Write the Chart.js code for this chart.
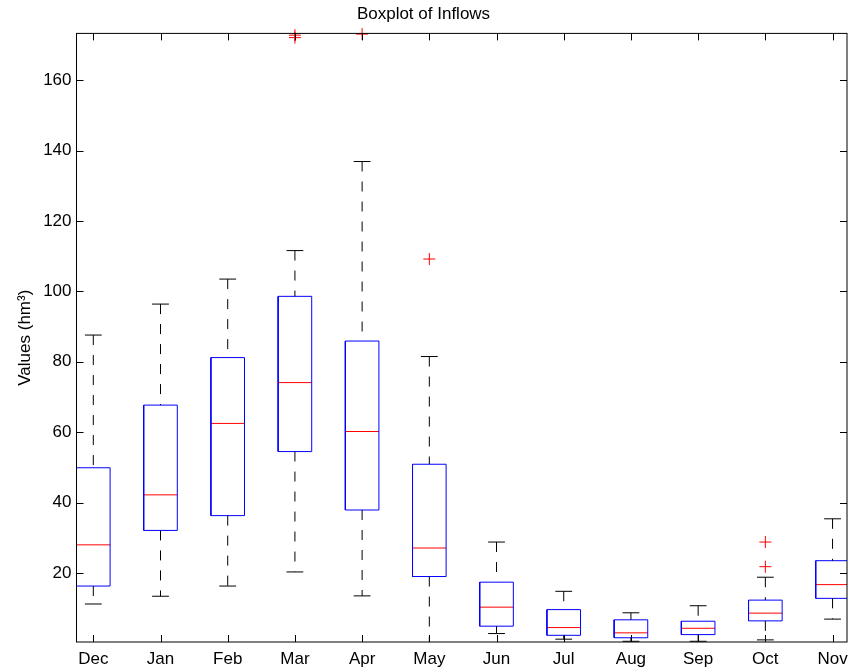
<!DOCTYPE html>
<html>
<head>
<meta charset="utf-8">
<title>Boxplot of Inflows</title>
<script src="https://cdn.jsdelivr.net/npm/chart.js@4.4.0/dist/chart.umd.min.js"></script>
<style>
  html, body { margin: 0; padding: 0; background: #fff; }
  #wrap { width: 848px; height: 670px; }
</style>
</head>
<body>
<div id="wrap"><canvas id="boxChart" width="848" height="670"></canvas></div>
<script>
'use strict';

// Monthly inflow statistics (hm3)
const months = ['Dec', 'Jan', 'Feb', 'Mar', 'Apr', 'May', 'Jun', 'Jul', 'Aug', 'Sep', 'Oct', 'Nov'];
const lowerWhisker = [11.2, 13.4, 16.3, 20.3, 13.5, 0.0, 2.8, 1.2, 0.6, 0.6, 1.0, 6.9];
const q1 = [16.3, 32.1, 36.3, 54.5, 37.9, 19.0, 4.9, 2.3, 1.6, 2.5, 6.4, 12.8];
const medians = [28.0, 42.2, 62.5, 74.1, 60.2, 27.1, 10.3, 4.5, 3.0, 4.3, 8.6, 16.7];
const q3 = [49.9, 67.7, 81.2, 98.6, 85.9, 50.9, 17.4, 9.6, 6.7, 6.3, 12.3, 23.5];
const upperWhisker = [87.6, 96.4, 103.5, 111.6, 136.9, 81.5, 28.8, 14.8, 8.7, 10.7, 18.8, 35.4];
const outliers = [[], [], [], [172.1, 172.8], [173.1], [109.2], [], [], [], [], [21.8, 28.8], []];
const yTickValues = [20, 40, 60, 80, 100, 120, 140, 160];

const BOX_HALF = 0.25;
const CAP_HALF = 0.125;
const FONT = '"Liberation Sans", Arial, Helvetica, sans-serif';

// helpers: each shape is a run of points, runs separated by a null gap
function gap(x) {
    return { x: x, y: null };
}

function boxPoints() {
    const pts = [];
    months.forEach(function(m, i) {
        pts.push({ x: i - BOX_HALF, y: q1[i] }, { x: i + BOX_HALF, y: q1[i] },
                 { x: i + BOX_HALF, y: q3[i] }, { x: i - BOX_HALF, y: q3[i] },
                 { x: i - BOX_HALF, y: q1[i] }, gap(i));
    });
    return pts;
}

function medianPoints() {
    const pts = [];
    months.forEach(function(m, i) {
        pts.push({ x: i - BOX_HALF, y: medians[i] }, { x: i + BOX_HALF, y: medians[i] }, gap(i));
    });
    return pts;
}

function whiskerPoints() {
    const pts = [];
    months.forEach(function(m, i) {
        pts.push({ x: i, y: upperWhisker[i] }, { x: i, y: q3[i] }, gap(i));
        pts.push({ x: i, y: q1[i] }, { x: i, y: lowerWhisker[i] }, gap(i));
    });
    return pts;
}

function capPoints() {
    const pts = [];
    months.forEach(function(m, i) {
        pts.push({ x: i - CAP_HALF, y: upperWhisker[i] }, { x: i + CAP_HALF, y: upperWhisker[i] }, gap(i));
        pts.push({ x: i - CAP_HALF, y: lowerWhisker[i] }, { x: i + CAP_HALF, y: lowerWhisker[i] }, gap(i));
    });
    return pts;
}

function outlierPoints() {
    const pts = [];
    outliers.forEach(function(list, i) {
        list.forEach(function(v) {
            pts.push({ x: i, y: v });
        });
    });
    return pts;
}

// MATLAB style frame with inward tick marks on all four sides
const framePlugin = {
    id: 'frame',
    afterDatasetsDraw: function(chart) {
        const ctx = chart.ctx;
        const area = chart.chartArea;
        const xScale = chart.scales.x;
        const yScale = chart.scales.y;
        const len = 7;
        ctx.save();
        ctx.strokeStyle = '#000';
        ctx.lineWidth = 1;
        ctx.beginPath();
        xScale.ticks.forEach(function(t) {
            const px = Math.round(xScale.getPixelForValue(t.value)) + 0.5;
            ctx.moveTo(px, area.bottom);
            ctx.lineTo(px, area.bottom - len);
            ctx.moveTo(px, area.top);
            ctx.lineTo(px, area.top + len);
        });
        yScale.ticks.forEach(function(t) {
            const py = Math.round(yScale.getPixelForValue(t.value)) + 0.5;
            ctx.moveTo(area.left, py);
            ctx.lineTo(area.left + len, py);
            ctx.moveTo(area.right, py);
            ctx.lineTo(area.right - len, py);
        });
        ctx.stroke();
        ctx.strokeRect(area.left, area.top, area.right - area.left, area.bottom - area.top);
        ctx.restore();
    }
};

const lineDefaults = {
    showLine: true,
    pointRadius: 0,
    pointHoverRadius: 0,
    borderWidth: 1,
    spanGaps: false,
    tension: 0
};

new Chart(document.getElementById('boxChart').getContext('2d'), {
    type: 'scatter',
    data: {
        datasets: [
            Object.assign({ label: 'whiskers', data: whiskerPoints(), borderColor: '#000000', borderDash: [10, 10] }, lineDefaults),
            Object.assign({ label: 'caps', data: capPoints(), borderColor: '#000000' }, lineDefaults),
            Object.assign({ label: 'boxes', data: boxPoints(), borderColor: '#0000ff' }, lineDefaults),
            Object.assign({ label: 'medians', data: medianPoints(), borderColor: '#ff0000' }, lineDefaults),
            {
                label: 'outliers',
                data: outlierPoints(),
                showLine: false,
                pointStyle: 'cross',
                pointRadius: 6,
                pointHoverRadius: 6,
                pointBorderWidth: 1,
                borderColor: '#ff0000',
                pointBorderColor: '#ff0000',
                clip: false
            }
        ]
    },
    options: {
        responsive: false,
        animation: false,
        events: [],
        layout: { autoPadding: false, padding: { left: 0, right: 1, top: 0, bottom: 0 } },
        plugins: {
            legend: { display: false },
            tooltip: { enabled: false },
            title: {
                display: true,
                text: 'Boxplot of Inflows',
                color: '#000',
                font: { family: FONT, size: 17, weight: 'normal', lineHeight: 1.2 },
                padding: { top: 4, bottom: 9 }
            }
        },
        scales: {
            x: {
                type: 'linear',
                min: -0.25,
                max: 11.215,
                grid: { display: false, drawTicks: false },
                border: { display: false },
                afterBuildTicks: function(scale) {
                    scale.ticks = months.map(function(m, i) { return { value: i }; });
                },
                afterFit: function(scale) {
                    scale.height = 28;
                    scale.paddingLeft = 0;
                    scale.paddingRight = 0;
                },
                ticks: {
                    color: '#000',
                    padding: 7,
                    maxRotation: 0,
                    autoSkip: false,
                    font: { family: FONT, size: 17 },
                    callback: function(value) { return months[value]; }
                }
            },
            y: {
                type: 'linear',
                min: 0.4,
                max: 173.3,
                grid: { display: false, drawTicks: false },
                border: { display: false },
                afterBuildTicks: function(scale) {
                    scale.ticks = yTickValues.map(function(v) { return { value: v }; });
                },
                afterFit: function(scale) {
                    scale.width = 76.5;
                    scale.paddingTop = 0;
                    scale.paddingBottom = 0;
                },
                ticks: {
                    color: '#000',
                    padding: 5,
                    font: { family: FONT, size: 17 }
                },
                title: {
                    display: true,
                    text: 'Values (hm\u00b3)',
                    color: '#000',
                    font: { family: FONT, size: 17 },
                    padding: { top: 15, bottom: 0 }
                }
            }
        }
    },
    plugins: [framePlugin]
});
</script>
</body>
</html>
